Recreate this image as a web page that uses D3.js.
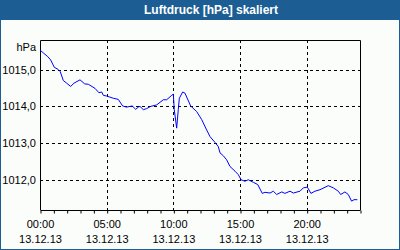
<!DOCTYPE html>
<html>
<head>
<meta charset="utf-8">
<script src="https://cdn.jsdelivr.net/npm/d3@7"></script>
<style>
  body { margin: 0; background: #fbfdfb; }
  text { font-family: "Liberation Sans", Arial, sans-serif; }
</style>
</head>
<body>
<div id="chart"></div>
<script>
// time of day in hours, pressure in hPa
const hours = [0, 0.25, 0.58, 0.8, 1.07, 1.37, 1.52, 1.75, 2.0, 2.3, 2.55, 3.0, 3.35, 3.62, 4.12, 4.42,
    4.63, 4.75, 5.0, 5.5, 5.87, 6.2, 6.5, 6.75, 6.92, 7.18, 7.37, 7.5, 7.75, 8.0, 8.3, 8.75, 9.25, 9.5,
    9.88, 10.0, 10.07, 10.25, 10.37, 10.45, 10.7, 10.87, 11.3, 11.75, 12.13, 12.5, 12.75, 13.13, 13.37,
    13.5, 13.75, 14.0, 14.25, 14.63, 14.87, 15.08, 15.37, 15.62, 16.0, 16.33, 16.67, 16.87, 17.25, 17.5,
    17.75, 18.13, 18.37, 18.75, 19.0, 19.5, 19.75, 20.05, 20.32, 20.62, 21.0, 21.62, 22.0, 22.37, 22.55,
    22.87, 23.12, 23.37, 23.55, 23.8];
const pressure = [1015.53, 1015.45, 1015.35, 1015.26, 1015.06, 1015.0, 1014.94, 1014.70, 1014.63, 1014.54,
    1014.63, 1014.72, 1014.61, 1014.60, 1014.49, 1014.37, 1014.39, 1014.30, 1014.28, 1014.22, 1014.19,
    1014.01, 1013.98, 1014.0, 1014.01, 1013.92, 1013.98, 1014.0, 1013.91, 1013.94, 1014.0, 1014.04,
    1014.18, 1014.18, 1014.30, 1014.33, 1013.91, 1013.41, 1013.91, 1014.22, 1014.39, 1014.36, 1014.01,
    1013.86, 1013.64, 1013.36, 1013.18, 1013.02, 1012.91, 1012.74, 1012.66, 1012.55, 1012.37, 1012.24,
    1012.15, 1012.01, 1011.97, 1012.01, 1011.94, 1011.88, 1011.64, 1011.67, 1011.65, 1011.70, 1011.61,
    1011.68, 1011.64, 1011.70, 1011.65, 1011.70, 1011.79, 1011.81, 1011.64, 1011.70, 1011.74, 1011.85,
    1011.79, 1011.70, 1011.61, 1011.68, 1011.61, 1011.43, 1011.47, 1011.47];

const yTicks = [1012, 1013, 1014, 1015];
const xTicks = [0, 5, 10, 15, 20];
const xTickLabels = ["00:00", "05:00", "10:00", "15:00", "20:00"];
const dateLabel = "13.12.13";
const title = "Luftdruck [hPa] skaliert";
const unit = "hPa";

const W = 400, H = 250;
const margin = { top: 40, right: 40, bottom: 40, left: 40 };
const width = W - margin.left - margin.right;
const height = 210 - margin.top;

const svg = d3.select("#chart")
    .append("svg")
    .attr("width", W)
    .attr("height", H);

// frame and title bar
svg.append("rect")
    .attr("x", 0.5).attr("y", 0.5)
    .attr("width", W - 1).attr("height", H - 1)
    .attr("fill", "#fbfdfb")
    .attr("stroke", "#1c5e93");
svg.append("rect")
    .attr("x", 0).attr("y", 0)
    .attr("width", W).attr("height", 20)
    .attr("fill", "#1c5e93");
svg.append("text")
    .attr("x", 211).attr("y", 14)
    .attr("text-anchor", "middle")
    .attr("fill", "#fff")
    .attr("font-weight", "bold")
    .attr("font-size", "12px")
    .text(title);

const g = svg.append("g")
    .attr("transform", `translate(${margin.left},${margin.top})`);

const x = d3.scaleLinear().domain([0, 24]).range([0, width]);
const y = d3.scaleLinear().domain([1011.19, 1015.8]).range([height, 0]);

// dashed grid
g.selectAll(".hgrid")
    .data(yTicks)
    .enter().append("line")
    .attr("class", "hgrid")
    .attr("x1", 0).attr("x2", width)
    .attr("y1", d => Math.round(y(d)) + 0.5)
    .attr("y2", d => Math.round(y(d)) + 0.5)
    .attr("stroke", "#000")
    .attr("stroke-dasharray", "3,3");

g.selectAll(".vgrid")
    .data(xTicks.slice(1))
    .enter().append("line")
    .attr("class", "vgrid")
    .attr("x1", d => Math.round(x(d)) + 0.5)
    .attr("x2", d => Math.round(x(d)) + 0.5)
    .attr("y1", 0).attr("y2", height)
    .attr("stroke", "#000")
    .attr("stroke-dasharray", "3,3");

// top, left, right border
g.append("path")
    .attr("d", `M0.5,${height}V0.5H${width + 0.5}V${height}`)
    .attr("fill", "none")
    .attr("stroke", "#000");

// bottom axis with hourly ticks
const xAxis = g.append("g")
    .attr("transform", `translate(0.5,${height + 0.5})`)
    .call(d3.axisBottom(x).ticks(24).tickValues(d3.range(0, 25)).tickSize(3).tickFormat(""));
xAxis.select(".domain").attr("d", `M0,0H${width}`).attr("stroke", "#000");
xAxis.selectAll(".tick line").attr("stroke", "#000");

// x labels
const xl = g.selectAll(".xlabel")
    .data(xTicks)
    .enter().append("g")
    .attr("class", "xlabel")
    .attr("transform", d => `translate(${x(d) + 0.5},0)`);
xl.append("text")
    .attr("y", height + 18)
    .attr("text-anchor", "middle")
    .attr("font-size", "11px")
    .text((d, i) => xTickLabels[i]);
xl.append("text")
    .attr("y", height + 33)
    .attr("text-anchor", "middle")
    .attr("font-size", "11px")
    .text(dateLabel);

// y labels
g.selectAll(".ylabel")
    .data(yTicks)
    .enter().append("text")
    .attr("class", "ylabel")
    .attr("x", -4)
    .attr("y", d => y(d) + 4)
    .attr("text-anchor", "end")
    .attr("font-size", "11px")
    .text(d => d.toFixed(1).replace(".", ","));

g.append("text")
    .attr("x", -4).attr("y", 11)
    .attr("text-anchor", "end")
    .attr("font-size", "11px")
    .text(unit);

// pressure line
const data = hours.map((h, i) => ({ h: h, p: pressure[i] }));
g.append("path")
    .datum(data)
    .attr("fill", "none")
    .attr("stroke", "#0000ff")
    .attr("stroke-width", 1)
    .attr("d", d3.line().x(d => x(d.h)).y(d => y(d.p)));
</script>
</body>
</html>
